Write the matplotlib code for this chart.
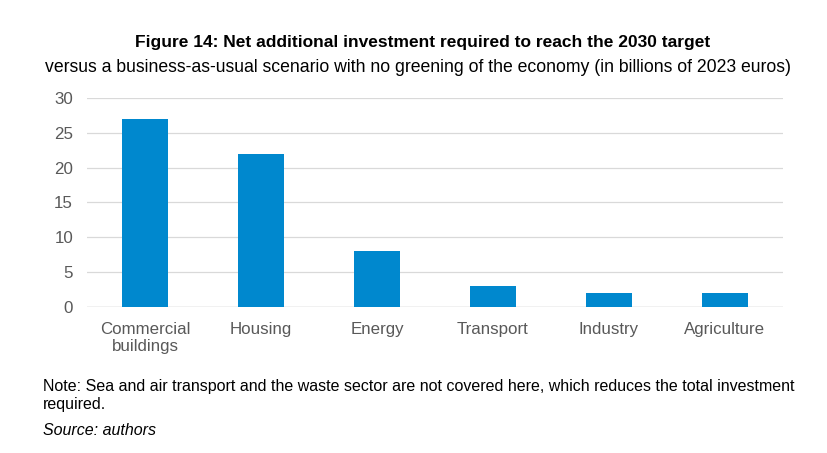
import matplotlib.pyplot as plt

sectors = ["Commercial\nbuildings", "Housing", "Energy", "Transport", "Industry", "Agriculture"]
investment = [27, 22, 8, 3, 2, 2]
y_ticks = [0, 5, 10, 15, 20, 25, 30]

plt.rcParams['font.family'] = ['Liberation Sans', 'DejaVu Sans']

fig = plt.figure(figsize=(8.28, 4.53), dpi=100)
ax = fig.add_axes([0.105, 0.3223, 0.8406, 0.4614])

x = list(range(len(sectors)))
ax.bar(x, investment, width=0.4, color="#0088ce", zorder=3)

ax.set_xlim(-0.5, len(sectors) - 0.5)
ax.set_ylim(0, 30)
ax.set_yticks(y_ticks)
ax.set_xticks(x)
ax.set_xticklabels(sectors, fontsize=12.2, color="#595959", linespacing=1.2)
ax.tick_params(axis="y", labelsize=12.2, labelcolor="#595959", length=0, pad=10)
ax.tick_params(axis="x", length=0, pad=10.5)
for s in ax.spines.values():
    s.set_visible(False)
ax.grid(axis="y", color="#d9d9d9", linewidth=0.9, zorder=0)
ax.axhline(0, color="#d0d0d0", linewidth=1, zorder=2)

fig.text(0.511, 0.906, "Figure 14: Net additional investment required to reach the 2030 target",
         ha="center", va="center", fontsize=12.5, fontweight="bold")
fig.text(0.505, 0.852, "versus a business-as-usual scenario with no greening of the economy (in billions of 2023 euros)",
         ha="center", va="center", fontsize=12.7)

fig.text(0.052, 0.146, "Note: Sea and air transport and the waste sector are not covered here, which reduces the total investment",
         ha="left", va="center", fontsize=11.5)
fig.text(0.052, 0.106, "required.", ha="left", va="center", fontsize=11.5)
fig.text(0.052, 0.049, "Source: authors", ha="left", va="center", fontsize=11.5, style="italic")

fig.savefig("out.png", dpi=100)
